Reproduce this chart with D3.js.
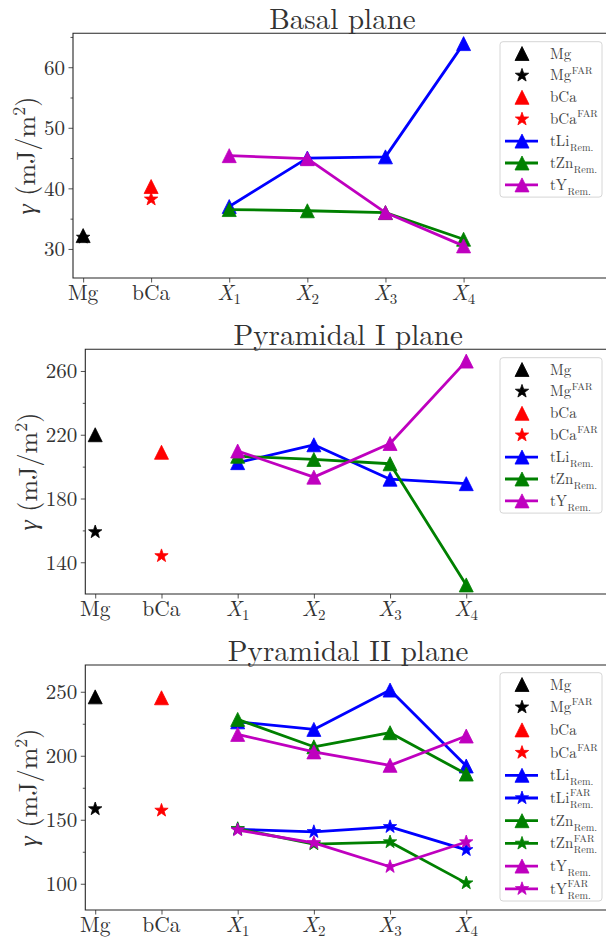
<!DOCTYPE html>
<html>
<head>
<meta charset="utf-8">
<script src="https://cdn.jsdelivr.net/npm/d3@7"></script>
<style>
  body { margin: 0; background: #fff; }
  svg text { font-family: "Latin Modern Roman", "Liberation Serif", serif; }
</style>
</head>
<body>
<div id="chart"></div>
<script>
// Categories on the x axis and their numeric positions
const categories = ["Mg", "bCa", "X1", "X2", "X3", "X4"];
const catPos     = [0.13, 1, 2, 3, 4, 5];
const tPos       = catPos.slice(2);

// Reference points: [Mg, Mg FAR, bCa, bCa FAR]
const basalRef = [32.2, 31.9, 40.3, 38.2];
const pyr1Ref  = [220, 159, 209, 144];
const pyr2Ref  = [246, 158.4, 245.3, 157.3];

// Basal plane, X1..X4
const basalLi = [37.0, 45.0, 45.2, 63.9];
const basalZn = [36.5, 36.3, 36.0, 31.6];
const basalY  = [45.4, 44.9, 36.0, 30.5];

// Pyramidal I plane
const pyr1Li = [202.5, 213.7, 192.1, 189.3];
const pyr1Zn = [206.5, 204.5, 201.8, 125.8];
const pyr1Y  = [209.8, 193.4, 214.5, 266.2];

// Pyramidal II plane
const pyr2Li    = [226.5, 220.6, 251.3, 192.0];
const pyr2LiFAR = [142.5, 140.6, 144.5, 126.5];
const pyr2Zn    = [228.4, 207.0, 218.0, 185.7];
const pyr2ZnFAR = [143.0, 131.0, 132.6, 100.5];
const pyr2Y     = [216.7, 203.0, 192.5, 215.4];
const pyr2YFAR  = [142.0, 132.0, 113.3, 132.6];

const W = 606, H = 941;
const FONT = '"Latin Modern Roman", "Liberation Serif", serif';
const colors = { Mg: "#000000", bCa: "#ff0000", Li: "#0000ff", Zn: "#008000", Y: "#bf00bf" };
const textColor = "#333";

const svg = d3.select("#chart").append("svg")
  .attr("width", W).attr("height", H)
  .attr("viewBox", `0 0 ${W} ${H}`)
  .style("font-family", FONT);

function refSeries(vals) {
  return [
    { label: "Mg",  color: colors.Mg,  shape: "tri",  x: [catPos[0]], y: [vals[0]], line: false },
    { label: "Mg",  sup: "FAR", color: colors.Mg,  shape: "star", x: [catPos[0]], y: [vals[1]], line: false },
    { label: "bCa", color: colors.bCa, shape: "tri",  x: [catPos[1]], y: [vals[2]], line: false },
    { label: "bCa", sup: "FAR", color: colors.bCa, shape: "star", x: [catPos[1]], y: [vals[3]], line: false }
  ];
}
function tSeries(name, vals, far) {
  return { label: "t" + name, sub: "Rem.", sup: far ? "FAR" : null, color: colors[name],
           shape: far ? "star" : "tri", x: tPos, y: vals, line: true };
}

const panels = [
  {
    title: "Basal plane", top: 33.3, bottom: 278, left: 73, right: 612,
    yDomain: [25.2, 65.6], yMajor: [30, 40, 50, 60], yMinor: [35, 45, 55, 65],
    ylabelX: 35, legendTop: 41.7, legendStep: 21.9,
    series: refSeries(basalRef).concat([
      tSeries("Li", basalLi), tSeries("Zn", basalZn), tSeries("Y", basalY)
    ])
  },
  {
    title: "Pyramidal I plane", top: 349.3, bottom: 594, left: 85.3, right: 611,
    yDomain: [120.1, 273.6], yMajor: [140, 180, 220, 260], yMinor: [160, 200, 240],
    ylabelX: 36.5, legendTop: 357.7, legendStep: 21.9,
    series: refSeries(pyr1Ref).concat([
      tSeries("Li", pyr1Li), tSeries("Zn", pyr1Zn), tSeries("Y", pyr1Y)
    ])
  },
  {
    title: "Pyramidal II plane", top: 665, bottom: 910, left: 85.3, right: 611,
    yDomain: [79.5, 270.9], yMajor: [100, 150, 200, 250], yMinor: [125, 175, 225],
    ylabelX: 36.5, legendTop: 672.7, legendStep: 22.7,
    series: refSeries(pyr2Ref).concat([
      tSeries("Li", pyr2Li), tSeries("Li", pyr2LiFAR, true),
      tSeries("Zn", pyr2Zn), tSeries("Zn", pyr2ZnFAR, true),
      tSeries("Y", pyr2Y),   tSeries("Y", pyr2YFAR, true)
    ])
  }
];

function markerPath(shape) {
  if (shape === "tri") {
    const r = 7;
    return `M0,${-r}L${r},${r}L${-r},${r}Z`;
  }
  const R = 7, r = 2.8;
  const pts = d3.range(10).map(i => {
    const a = -Math.PI / 2 + i * Math.PI / 5;
    const rad = i % 2 === 0 ? R : r;
    return [rad * Math.cos(a), rad * Math.sin(a)];
  });
  return "M" + pts.map(p => p[0].toFixed(2) + "," + p[1].toFixed(2)).join("L") + "Z";
}

// text with optional superscript / subscript stacked after the base
function richLabel(g, x, y, base, sup, sub, size, color) {
  const t = g.append("text").attr("x", x).attr("y", y)
    .attr("font-size", size).attr("fill", color).style("font-family", FONT).text(base);
  const w = t.node().getComputedTextLength();
  const small = size * 0.68;
  if (sup) g.append("text").attr("x", x + w + 0.5).attr("y", y - size * 0.45)
    .attr("font-size", small).attr("fill", color).style("font-family", FONT).text(sup);
  if (sub) g.append("text").attr("x", x + w + 0.5).attr("y", y + size * 0.33)
    .attr("font-size", small).attr("fill", color).style("font-family", FONT).text(sub);
}

panels.forEach(p => {
  const g = svg.append("g");

  const x = d3.scaleLinear().domain([0, 6.9]).range([p.left, p.right]);
  const y = d3.scaleLinear().domain(p.yDomain).range([p.bottom, p.top]);

  // left axis: minor then major ticks
  g.append("g").attr("transform", `translate(${p.left},0)`)
    .call(d3.axisLeft(y).tickValues(p.yMinor).tickSize(2.5).tickSizeOuter(0).tickFormat(""))
    .call(a => a.select(".domain").remove())
    .call(a => a.selectAll("line").attr("stroke", "#262626").attr("stroke-width", 0.8));

  g.append("g").attr("transform", `translate(${p.left},0)`)
    .call(d3.axisLeft(y).tickValues(p.yMajor).tickSize(4.5).tickSizeOuter(0).tickPadding(3.5))
    .call(a => a.attr("font-family", null))
    .call(a => a.select(".domain").remove())
    .call(a => a.selectAll("line").attr("stroke", "#262626").attr("stroke-width", 0.8))
    .call(a => a.selectAll("text").attr("font-size", 21).attr("fill", textColor)
      .style("font-family", FONT).attr("dy", "0.33em"));

  // bottom axis
  const xAxis = g.append("g").attr("transform", `translate(0,${p.bottom})`)
    .call(d3.axisBottom(x).tickValues(catPos).tickSize(4.5).tickSizeOuter(0).tickFormat(""))
    .call(a => a.attr("font-family", null))
    .call(a => a.select(".domain").remove())
    .call(a => a.selectAll("line").attr("stroke", "#262626").attr("stroke-width", 0.8));

  categories.forEach((c, i) => {
    const t = xAxis.append("text").attr("x", x(catPos[i])).attr("y", 22)
      .attr("text-anchor", "middle").attr("font-size", 21.5).attr("fill", textColor)
      .style("font-family", FONT);
    if (c[0] === "X") {
      t.append("tspan").attr("font-style", "italic").text("X");
      t.append("tspan").attr("font-size", 15).attr("dy", 4).text(c.slice(1));
    } else {
      t.text(c);
    }
  });

  // spines: left, bottom, top (right falls outside the picture)
  g.append("path")
    .attr("d", `M${p.right},${p.top}H${p.left}V${p.bottom}H${p.right}`)
    .attr("fill", "none").attr("stroke", "#262626").attr("stroke-width", 1.1);

  // title
  g.append("text").attr("x", (p.left + p.right) / 2).attr("y", p.top - 4)
    .attr("text-anchor", "middle").attr("font-size", 29).attr("fill", textColor)
    .style("font-family", FONT).text(p.title);

  // y label
  const yl = g.append("text")
    .attr("transform", `translate(${p.ylabelX},${(p.top + p.bottom) / 2}) rotate(-90)`)
    .attr("text-anchor", "middle").attr("font-size", 26).attr("fill", textColor)
    .style("font-family", FONT);
  yl.append("tspan").attr("font-style", "italic").text("γ");
  yl.append("tspan").text(" (mJ/m");
  yl.append("tspan").attr("font-size", 18).attr("dy", -10).text("2");
  yl.append("tspan").attr("dy", 10).text(")");

  // series
  const line = d3.line().x(d => x(d[0])).y(d => y(d[1]));
  p.series.forEach(s => {
    const pts = s.x.map((xv, i) => [xv, s.y[i]]);
    if (s.line) {
      g.append("path").datum(pts).attr("d", line)
        .attr("fill", "none").attr("stroke", s.color).attr("stroke-width", 2.8)
        .attr("stroke-linejoin", "round");
    }
    g.selectAll(null).data(pts).enter().append("path")
      .attr("transform", d => `translate(${x(d[0])},${y(d[1])})`)
      .attr("d", markerPath(s.shape))
      .attr("fill", s.color).attr("stroke", s.color).attr("stroke-width", 0.8);
  });

  // legend
  const n = p.series.length;
  const lg = g.append("g");
  const boxH = (n - 1) * p.legendStep + 24;
  lg.append("rect").attr("x", 500).attr("y", p.legendTop).attr("width", 102).attr("height", boxH)
    .attr("rx", 3).attr("fill", "#fff").attr("fill-opacity", 0.8)
    .attr("stroke", "#d6d6d6").attr("stroke-width", 1);
  p.series.forEach((s, i) => {
    const cy = p.legendTop + 11.8 + i * p.legendStep;
    if (s.line) {
      lg.append("line").attr("x1", 505).attr("x2", 538).attr("y1", cy).attr("y2", cy)
        .attr("stroke", s.color).attr("stroke-width", 2.8);
    }
    lg.append("path").attr("transform", `translate(522,${cy})`)
      .attr("d", markerPath(s.shape))
      .attr("fill", s.color).attr("stroke", s.color).attr("stroke-width", 0.8);
    richLabel(lg, 550, cy + 5, s.label, s.sup, s.sub, 15, "#444");
  });
});
</script>
</body>
</html>
